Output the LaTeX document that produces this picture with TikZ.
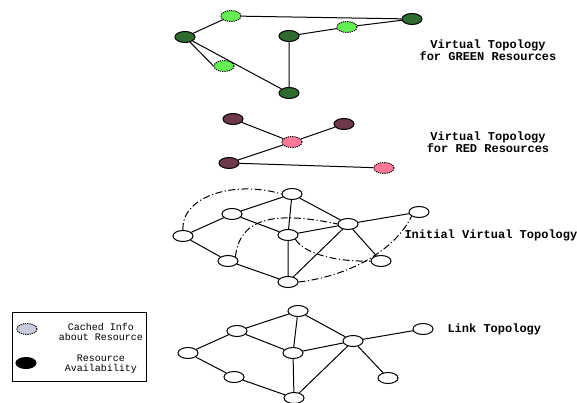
\documentclass[tikz,border=0pt]{standalone}
\usepackage{fontspec}
\setmonofont{Liberation Mono}
\definecolor{dkgreen}{HTML}{2F6B2F}
\definecolor{ltgreen}{HTML}{66EE55}
\definecolor{maroon}{HTML}{6E3A4A}
\definecolor{pinkres}{HTML}{FF7A99}
\definecolor{cachegray}{HTML}{C8CCDD}
\tikzset{
  vtx/.style={ellipse, draw=black, line width=1pt, minimum width=20pt, minimum height=11pt, inner sep=0pt},
  have/.style={vtx, fill=#1},
  cached/.style={vtx, fill=#1, dash pattern=on 1.2pt off 1pt},
  link/.style={line width=1pt},
  overlay link/.style={line width=1pt, dash pattern=on 7pt off 2.5pt on 1.2pt off 2.5pt},
  title/.style={font=\ttfamily\bfseries\fontsize{12}{11}\selectfont, align=center},
  legendtext/.style={font=\ttfamily\fontsize{10}{10}\selectfont, align=center}
}
\usetikzlibrary{shapes.geometric}
\begin{document}
\begin{tikzpicture}[x=1pt,y=-1pt]
\useasboundingbox (0,0) rectangle (577,403);

% Virtual topology for green resources
\node[have=dkgreen] (g1) at (185,37) {};
\node[cached=ltgreen] (g2) at (231,16) {};
\node[cached=ltgreen] (g3) at (224,66) {};
\node[have=dkgreen] (g4) at (289,36) {};
\node[cached=ltgreen] (g5) at (347,27) {};
\node[have=dkgreen] (g6) at (412,19) {};
\node[have=dkgreen] (g7) at (289,93) {};
\draw[link] (g1) -- (g2) (g2) -- (g6) (g1) -- (g3.west) (g1) -- (g7)
            (g4) -- (g7) (g4) -- (g5) (g5) -- (g6);
\node[title] (tgreen) at (488,50) {Virtual Topology\\for GREEN Resources};

% Virtual topology for red resources
\node[have=maroon] (r1) at (233,119) {};
\node[cached=pinkres] (r2) at (292,142) {};
\node[have=maroon] (r3) at (344,124) {};
\node[have=maroon] (r4) at (229,163) {};
\node[cached=pinkres] (r5) at (384,168) {};
\draw[link] (r1) -- (r2) (r2) -- (r3) (r2) -- (r4) (r4) -- (r5);
\node[title] (tred) at (488,142) {Virtual Topology\\for RED Resources};

% Initial virtual topology
\node[vtx] (a) at (292,194) {};
\node[vtx] (b) at (232,214) {};
\node[vtx] (c) at (183,236) {};
\node[vtx] (d) at (288,235) {};
\node[vtx] (e) at (348,224) {};
\node[vtx] (f) at (419,212) {};
\node[vtx] (g) at (228,261) {};
\node[vtx] (h) at (381,261) {};
\node[vtx] (i) at (288,282) {};
\draw[link] (c) -- (b) (b) -- (a) (a) -- (d) (a) -- (e) (b) -- (d) (d) -- (e)
            (e) -- (f) (e) -- (h) (d) -- (i) (e) -- (i) (c) -- (g) (g) -- (i);
\draw[overlay link] (c.north) .. controls (181,196) and (235,180) .. (a.west);
\draw[overlay link] (g.north east) .. controls (240,215) and (280,212) .. (e.west);
\draw[overlay link] (d.south east) .. controls (305,255) and (340,262) .. (h.west);
\draw[overlay link] (i.east) .. controls (350,276) and (395,250) .. (f.south west);
\node[title, anchor=west] (tinit) at (401,235) {Initial Virtual Topology};

% Link topology
\node[vtx] (la) at (298,311) {};
\node[vtx] (lb) at (237,331) {};
\node[vtx] (lc) at (188,353) {};
\node[vtx] (ld) at (293,353) {};
\node[vtx] (le) at (353,341) {};
\node[vtx] (lf) at (423,329) {};
\node[vtx] (lg) at (234,377) {};
\node[vtx] (lh) at (388,378) {};
\node[vtx] (li) at (294,398) {};
\draw[link] (lc) -- (lb) (lb) -- (la) (la) -- (ld) (la) -- (le) (lb) -- (ld) (ld) -- (le)
            (le) -- (lf) (le) -- (lh) (ld) -- (li) (le) -- (li) (lc) -- (lg) (lg) -- (li);
\node[title, anchor=west] (tlink) at (444,329) {Link Topology};

% Legend
\node[draw=black, line width=1pt, minimum width=134pt, minimum height=69pt, inner sep=0pt] (legend) at (79,346.5) {};
\node[cached=cachegray] (k1) at (27,329) {};
\node[have=black] (k2) at (26,363) {};
\node[legendtext] (k1t) at (101,332) {Cached Info\\about Resource};
\node[legendtext] (k2t) at (101,364.5) {Resource\\Availability};
\end{tikzpicture}
\end{document}
